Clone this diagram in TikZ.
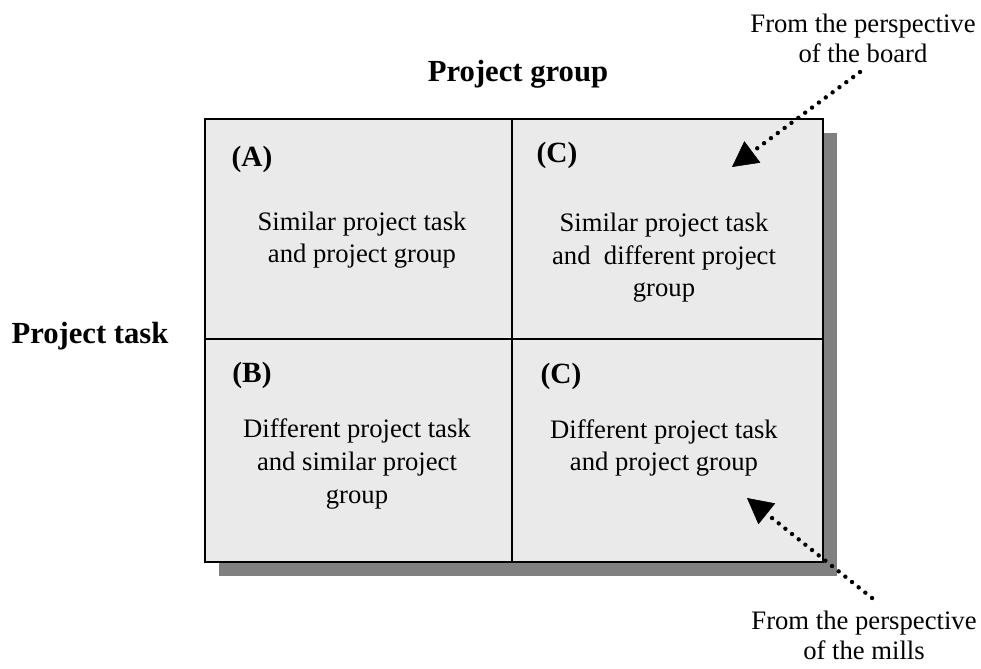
\documentclass[tikz,border=0pt]{standalone}
\usepackage{fontspec}
\setmainfont{Liberation Serif}
\usepackage{tikz}
\usetikzlibrary{arrows.meta,positioning}
\definecolor{cellgray}{RGB}{234,234,234}
\definecolor{shadowgray}{RGB}{128,128,128}

\begin{document}
\begin{tikzpicture}[
    x=0.75pt, y=-0.75pt,
    axislabel/.style={font=\fontsize{23}{27}\selectfont\bfseries, inner sep=0pt},
    tag/.style={font=\fontsize{22}{26}\selectfont\bfseries, inner sep=0pt},
    celltext/.style={align=center, font=\fontsize{20}{24.4}\selectfont, inner sep=0pt},
    note/.style={align=center, font=\fontsize{20}{22.5}\selectfont, inner sep=0pt},
    pointer/.style={line width=3.3pt, line cap=round, dash pattern=on 0pt off 6.4pt,
        -{Triangle[length=19pt,width=20pt,line width=0.4pt]}}
]
    \useasboundingbox (0,0) rectangle (981,668);

    % grid with shadow
    \fill[shadowgray] (219,133) rectangle (837,576);
    \draw[fill=cellgray, line width=1.5pt] (205,119) rectangle (823,562);
    \draw[line width=1.1pt] (512,119) -- (512,562);
    \draw[line width=1.1pt] (205,339) -- (823,339);

    % axis labels
    \node[axislabel, anchor=base] (grp) at (518,81) {Project group};
    \node[axislabel, anchor=base] (tsk) at (90,343) {Project task};

    % quadrants
    \node[tag] (tagA) at (252,159) {(A)};
    \node[celltext] (txtA) at (362,240) {Similar project task\\and project group};
    \node[tag] (tagC1) at (557,155) {(C)};
    \node[celltext] (txtC1) at (664,258) {Similar project task\\and\ \ different project\\group};
    \node[tag] (tagB) at (252,375) {(B)};
    \node[celltext] (txtB) at (357,464) {Different project task\\and similar project\\group};
    \node[tag] (tagC2) at (561,376) {(C)};
    \node[celltext] (txtC2) at (664,448) {Different project task\\and project group};

    % perspectives
    \node[note] (board) at (863,38) {From the perspective\\of the board};
    \node[note] (mills) at (864,635) {From the perspective\\of the mills};
    \coordinate (boardtail) at (860,72);
    \coordinate (boardtip) at (732,167);
    \coordinate (millstail) at (872,598);
    \coordinate (millstip) at (747,498);

    \draw[pointer] (boardtail) -- (boardtip);
    \draw[pointer] (millstail) -- (millstip);
\end{tikzpicture}
\end{document}
